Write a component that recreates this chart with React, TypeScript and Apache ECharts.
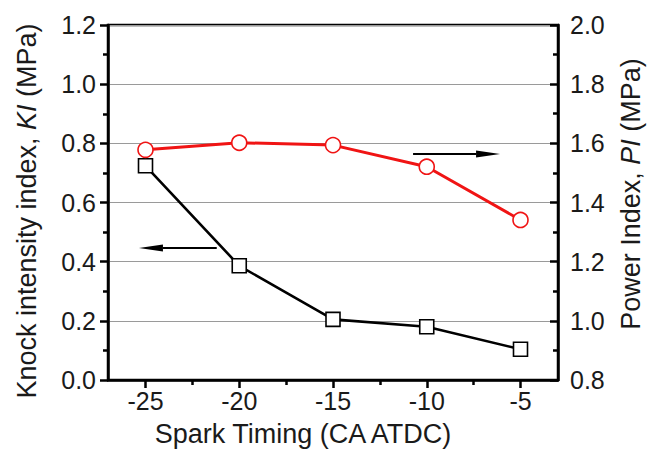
import React, { useEffect, useRef } from "react";
import * as echarts from "echarts";

const sparkTiming = [-25, -20, -15, -10, -5];
const knockIntensity = [0.724, 0.386, 0.205, 0.18, 0.104];
const powerIndex = [1.578, 1.602, 1.594, 1.521, 1.341];
const xTickValues = [-25, -20, -15, -10, -5];
const xMinorTickValues = [-22.5, -17.5, -12.5, -7.5];
// annotation arrows, in data coordinates of the left (KI) axis
const leftArrowFrom = [-21.2, 0.446];
const leftArrowTo = [-25.35, 0.446];
const rightArrowFrom = [-10.73, 0.764];
const rightArrowTo = [-6.09, 0.764];

const FONT = "'Liberation Sans', Arial, Helvetica, sans-serif";
const AXIS_COLOR = "#000";
const TEXT_COLOR = "#1a1a1a";
const RED = "#f01414";

export default function App() {
  const ref = useRef<HTMLDivElement>(null);

  useEffect(() => {
    document.body.style.margin = "0";
    if (!ref.current) return;
    const chart = echarts.init(ref.current, null, { renderer: "svg" });
    const axisLine = { show: true, lineStyle: { color: AXIS_COLOR, width: 2.5 } };
    const tickLine = { color: AXIS_COLOR, width: 2.5 };
    const labelStyle = { fontFamily: FONT, fontSize: 25, color: TEXT_COLOR };

    chart.setOption({
      animation: false,
      backgroundColor: "#fff",
      grid: {
        left: 108,
        right: 89,
        top: 25,
        bottom: 71,
        containLabel: false,
        outerBoundsMode: "none",
        show: true,
        borderColor: AXIS_COLOR,
        borderWidth: 2.5,
        backgroundColor: "transparent",
      },
      xAxis: [
        {
          type: "value",
          min: -27,
          max: -3,
          position: "bottom",
          axisLine,
          axisTick: { show: true, customValues: xTickValues, length: 8, inside: false, lineStyle: tickLine },
          axisLabel: { show: true, customValues: xTickValues, margin: 8, ...labelStyle },
          splitLine: { show: false },
          name: "Spark Timing (CA ATDC)",
          nameLocation: "middle",
          nameGap: 40,
          nameTextStyle: { fontFamily: FONT, fontSize: 27, color: TEXT_COLOR, padding: [0, 60, 0, 0] },
        },
        {
          type: "value",
          min: -27,
          max: -3,
          position: "bottom",
          axisLine: { show: false },
          axisTick: { show: true, customValues: xMinorTickValues, length: 5, inside: false, lineStyle: tickLine },
          axisLabel: { show: false },
          splitLine: { show: false },
        },
      ],
      yAxis: [
        {
          type: "value",
          position: "left",
          min: 0,
          max: 1.2,
          interval: 0.2,
          axisLine,
          axisTick: { show: true, inside: false, length: 8, lineStyle: tickLine },
          minorTick: { show: true, splitNumber: 2, length: 5, lineStyle: tickLine },
          axisLabel: { margin: 12, formatter: (v: number) => v.toFixed(1), ...labelStyle },
          splitLine: { show: true, lineStyle: { color: "#9a9a9a", width: 1.2 } },
          name: "Knock intensity index, {i|KI} (MPa)",
          nameLocation: "middle",
          nameGap: 68,
          nameTextStyle: {
            fontFamily: FONT,
            fontSize: 27,
            color: TEXT_COLOR,
            padding: [0, 17, 0, 0],
            rich: { i: { fontFamily: FONT, fontSize: 27, color: TEXT_COLOR, fontStyle: "italic" } },
          },
        },
        {
          type: "value",
          position: "right",
          min: 0.8,
          max: 2.0,
          interval: 0.2,
          axisLine,
          axisTick: { show: true, inside: true, length: 8, lineStyle: tickLine },
          minorTick: { show: true, splitNumber: 2, length: 5, lineStyle: tickLine },
          axisLabel: { margin: 12, formatter: (v: number) => v.toFixed(1), ...labelStyle },
          splitLine: { show: false },
          name: "Power Index, {i|PI} (MPa)",
          nameLocation: "middle",
          nameGap: 59,
          nameTextStyle: {
            fontFamily: FONT,
            fontSize: 27,
            color: TEXT_COLOR,
            padding: [0, 0, 0, 17],
            rich: { i: { fontFamily: FONT, fontSize: 27, color: TEXT_COLOR, fontStyle: "italic" } },
          },
        },
      ],
      series: [
        {
          name: "KI",
          type: "line",
          xAxisIndex: 0,
          yAxisIndex: 0,
          data: sparkTiming.map((x, i) => [x, knockIntensity[i]]),
          symbol: "rect",
          symbolSize: 14,
          lineStyle: { color: "#000", width: 2.6 },
          itemStyle: { color: "#fff", borderColor: "#000", borderWidth: 1.6 },
          z: 3,
        },
        {
          name: "PI",
          type: "line",
          xAxisIndex: 0,
          yAxisIndex: 1,
          data: sparkTiming.map((x, i) => [x, powerIndex[i]]),
          symbol: "circle",
          symbolSize: 15,
          lineStyle: { color: RED, width: 3 },
          itemStyle: { color: "#fff", borderColor: RED, borderWidth: 1.6 },
          z: 4,
        },
      ],
    });

    const px = (p: number[]) => chart.convertToPixel({ xAxisIndex: 0, yAxisIndex: 0 }, p) as number[];
    const arrow = (from: number[], to: number[]) => {
      const a = px(from);
      const b = px(to);
      const dir = Math.sign(b[0] - a[0]);
      const headLen = 24;
      const half = 3.5;
      const base = b[0] - dir * headLen;
      return [
        { type: "line", shape: { x1: a[0], y1: a[1], x2: base, y2: b[1] }, style: { stroke: "#000", lineWidth: 2 }, z: 10 },
        {
          type: "polygon",
          shape: { points: [[b[0], b[1]], [base, b[1] - half], [base, b[1] + half]] },
          style: { fill: "#000" },
          z: 10,
        },
      ];
    };
    chart.setOption({ graphic: [...arrow(leftArrowFrom, leftArrowTo), ...arrow(rightArrowFrom, rightArrowTo)] });

    return () => chart.dispose();
  }, []);

  return <div ref={ref} style={{ width: 647, height: 451 }} />;
}
